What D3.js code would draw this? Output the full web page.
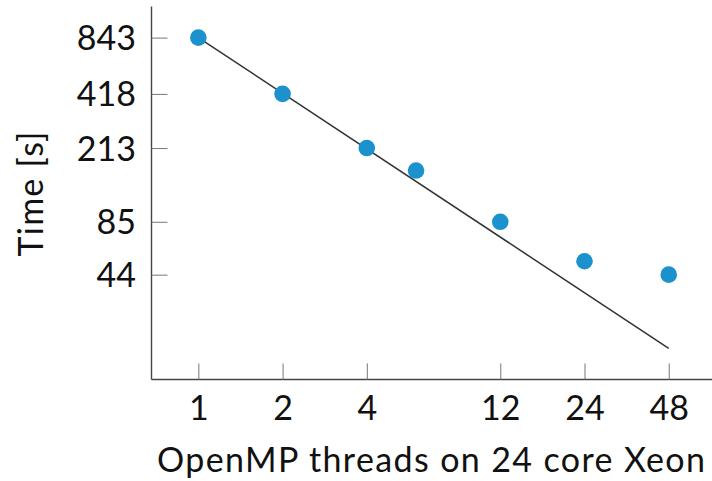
<!DOCTYPE html>
<html>
<head>
<meta charset="utf-8">
<script src="https://cdn.jsdelivr.net/npm/d3@7"></script>
<style>
html,body{margin:0;padding:0;background:#fff;}
svg{display:block;}
text{font-family:Lato,"Open Sans",sans-serif;fill:#111;}
</style>
</head>
<body>
<svg id="chart" width="712" height="481"></svg>
<script>
// Data
const threads = [1, 2, 4, 6, 12, 24, 48];
const times = [843, 418, 213, 161, 85, 52, 44];
const xTicks = [1, 2, 4, 12, 24, 48];
const yTicks = [843, 418, 213, 85, 44];
const idealStart = 843;           // ideal scaling: 843 / threads
const idealThreads = [1, 48];
const xLabel = "OpenMP threads on 24 core Xeon";
const yLabel = "Time [s]";

const svg = d3.select("#chart");
const fontSize = 34;

const x = d3.scaleLog().domain([0.68, 70.6]).range([151.5, 715.6]);
const y = d3.scaleLog().domain([11.92, 1242]).range([379.5, 6.5]);

// Axes lines
const axisColor = "#444";
svg.append("line").attr("x1", x.range()[0]).attr("x2", 712)
  .attr("y1", y.range()[0]).attr("y2", y.range()[0])
  .attr("stroke", axisColor).attr("stroke-width", 1.4);
svg.append("line").attr("x1", x.range()[0]).attr("x2", x.range()[0])
  .attr("y1", y.range()[0]).attr("y2", y.range()[1])
  .attr("stroke", axisColor).attr("stroke-width", 1.4);

// X ticks (inward)
const xg = svg.append("g").attr("transform", `translate(0,${y.range()[0]})`)
  .call(d3.axisBottom(x).tickValues(xTicks).tickFormat(d3.format("d")).tickSize(-16).tickPadding(0));
xg.select(".domain").remove();
xg.selectAll(".tick line").attr("stroke", "#777").attr("stroke-width", 1);
xg.selectAll(".tick text").attr("y", 40).attr("dy", null)
  .style("font-size", fontSize + "px").attr("fill", "#111");

// Y ticks (inward)
const yg = svg.append("g").attr("transform", `translate(${x.range()[0]},0)`)
  .call(d3.axisLeft(y).tickValues(yTicks).tickFormat(d3.format("d")).tickSize(-16).tickPadding(0));
yg.select(".domain").remove();
yg.selectAll(".tick line").attr("stroke", "#777").attr("stroke-width", 1);
yg.selectAll(".tick text").attr("x", -15.5).attr("dy", "12px")
  .style("font-size", fontSize + "px").attr("fill", "#111");

// Ideal line
const line = d3.line().x(d => x(d)).y(d => y(idealStart / d));
svg.append("path").datum(idealThreads).attr("d", line)
  .attr("fill", "none").attr("stroke", "#333").attr("stroke-width", 1.5);

// Points
svg.selectAll("circle.pt").data(threads).enter().append("circle")
  .attr("class", "pt")
  .attr("cx", d => x(d)).attr("cy", (d, i) => y(times[i]))
  .attr("r", 8.3).attr("fill", "#1b91cd");

// Labels
svg.append("text").attr("x", 431).attr("y", 471.5).attr("text-anchor", "middle")
  .attr("textLength", 548).attr("lengthAdjust", "spacing")
  .style("font-size", fontSize + "px").text(xLabel);
svg.append("text").attr("transform", "translate(43,194) rotate(-90)")
  .attr("text-anchor", "middle")
  .attr("textLength", 125).attr("lengthAdjust", "spacing")
  .style("font-size", fontSize + "px").text(yLabel);
</script>
</body>
</html>
